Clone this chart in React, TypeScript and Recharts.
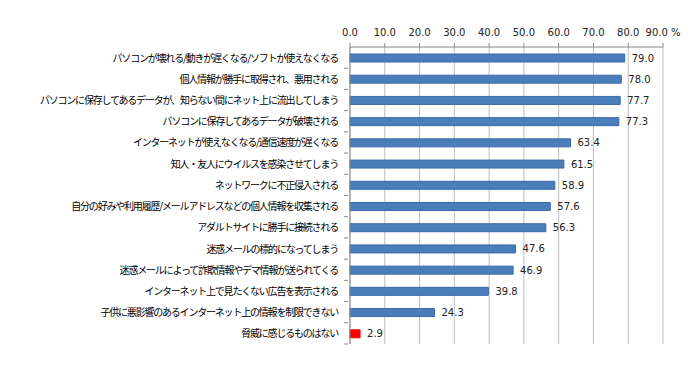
import { BarChart, Bar, XAxis, YAxis, CartesianGrid, Cell, LabelList } from "recharts";

const categories = [
  "パソコンが壊れる/動きが遅くなる/ソフトが使えなくなる",
  "個人情報が勝手に取得され、悪用される",
  "パソコンに保存してあるデータが、知らない間にネット上に流出してしまう",
  "パソコンに保存してあるデータが破壊される",
  "インターネットが使えなくなる/通信速度が遅くなる",
  "知人・友人にウイルスを感染させてしまう",
  "ネットワークに不正侵入される",
  "自分の好みや利用履歴/メールアドレスなどの個人情報を収集される",
  "アダルトサイトに勝手に接続される",
  "迷惑メールの標的になってしまう",
  "迷惑メールによって詐欺情報やデマ情報が送られてくる",
  "インターネット上で見たくない広告を表示される",
  "子供に悪影響のあるインターネット上の情報を制限できない",
  "脅威に感じるものはない",
];
const values = [79.0, 78.0, 77.7, 77.3, 63.4, 61.5, 58.9, 57.6, 56.3, 47.6, 46.9, 39.8, 24.3, 2.9];
const xTicks = [0, 10, 20, 30, 40, 50, 60, 70, 80, 90];

const data = categories.map((name, i) => ({ name, value: values[i] }));

const font = "'Noto Sans CJK JP', sans-serif";

function CatTick(props: any) {
  const { x, y, payload } = props;
  return (
    <g>
      <line x1={x + 2} x2={x + 6} y1={y + 10.6} y2={y + 10.6} stroke="#888" />
      <text
        x={x - 4}
        y={y}
        dy={4}
        textAnchor="end"
        fontSize={10}
        letterSpacing={-1.2}
        fill="#000"
        fontFamily={font}
      >
        {payload.value}
      </text>
    </g>
  );
}

function TopTick(props: any) {
  const { x, y, payload } = props;
  const last = payload.value === 90;
  return (
    <text x={x} y={y} dy={-5} textAnchor="middle" fontSize={10} fill="#222" fontFamily="'DejaVu Sans', sans-serif">
      {payload.value.toFixed(1)}
      {last ? <tspan dx={3}>%</tspan> : null}
    </text>
  );
}

export default function App() {
  return (
    <div style={{ position: "absolute", left: 0, top: 0, width: 700, height: 369, background: "#fff" }}>
      <BarChart
        width={700}
        height={369}
        data={data}
        layout="vertical"
        margin={{ top: 17, right: 37, bottom: 25, left: 0 }}
      >
        <CartesianGrid horizontal={false} stroke="#bdbdbd" />
        <XAxis
          type="number"
          orientation="top"
          domain={[0, 90]}
          ticks={xTicks}
          height={30}
          axisLine={{ stroke: "#888" }}
          tickLine={{ stroke: "#888" }}
          tickSize={4}
          tick={<TopTick />}
        />
        <YAxis
          type="category"
          dataKey="name"
          width={350}
          axisLine={{ stroke: "#888" }}
          tickLine={false}
          interval={0}
          tick={<CatTick />}
        />
        <Bar dataKey="value" barSize={8} isAnimationActive={false} strokeWidth={1}>
          {data.map((d, i) => (
            <Cell
              key={i}
              fill={i === data.length - 1 ? "#ff0000" : "#4a7ebb"}
              stroke={i === data.length - 1 ? "#ff0000" : "#3a6aa8"}
            />
          ))}
          <LabelList
            dataKey="value"
            position="right"
            offset={7}
            fontSize={10}
            fill="#222"
            fontFamily="'DejaVu Sans', sans-serif"
            formatter={(v: any) => Number(v).toFixed(1)}
          />
        </Bar>
      </BarChart>
    </div>
  );
}
